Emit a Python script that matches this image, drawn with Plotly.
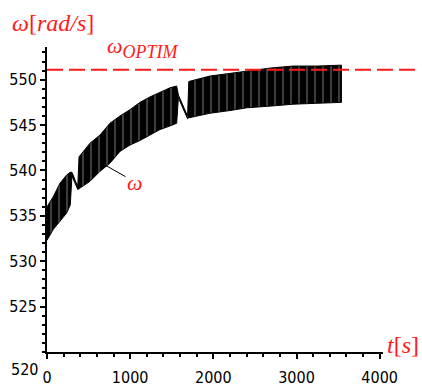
import plotly.graph_objects as go

# Rotor speed envelope: time [s], lower and upper bound of the oscillating omega [rad/s]
t_s = [0, 75, 156, 236, 280, 300, 370, 385, 517, 637, 757, 877, 998, 1118,
       1238, 1358, 1478, 1559, 1580, 1690, 1705, 1959, 2200, 2400, 2700,
       2960, 3250, 3540]
omega_low = [532.3, 533.5, 534.4, 535.3, 536.2, 539.4, 537.9, 538.0, 538.8,
             539.9, 540.8, 542.1, 542.8, 543.3, 543.9, 544.5, 544.9, 545.2,
             548.0, 545.7, 545.8, 546.3, 546.6, 546.9, 547.1, 547.3, 547.4,
             547.5]
omega_high = [536.0, 537.1, 538.6, 539.5, 539.8, 539.8, 538.2, 541.5, 543.0,
              543.9, 545.2, 546.0, 546.7, 547.5, 548.1, 548.6, 549.1, 549.3,
              548.3, 546.0, 549.8, 550.4, 550.7, 551.0, 551.3, 551.5, 551.5,
              551.6]

omega_optim = 551.1

x_ticks = [0, 1000, 2000, 3000, 4000]
y_ticks = [525, 530, 535, 540, 545, 550]

RED = "#ff1a1a"
SERIF = "Liberation Serif, Times New Roman, serif"
TICKFONT = dict(family="Liberation Sans Narrow, DejaVu Sans Condensed, sans-serif",
                size=16, color="black")

fig = go.Figure()

# oscillating speed drawn as the band between its envelopes,
# hatched with thin light strokes like the individual swings
fig.add_trace(go.Scatter(
    x=t_s + t_s[::-1],
    y=omega_high + omega_low[::-1],
    fill="toself",
    fillcolor="black",
    fillpattern=dict(shape="|", bgcolor="black", fgcolor="white",
                     size=8, solidity=0.12),
    line=dict(color="black", width=1),
    mode="lines",
    hoverinfo="skip",
    showlegend=False,
))

# optimal speed reference
fig.add_shape(type="line", xref="paper", yref="y",
              x0=0.0, x1=1.095, y0=omega_optim, y1=omega_optim,
              line=dict(color=RED, width=2, dash="16px,6px"))

fig.update_xaxes(
    range=[0, 4040], tickvals=x_ticks, ticks="outside", ticklen=5,
    tickwidth=1.5, tickcolor="black", showline=True, linewidth=2,
    linecolor="black", showgrid=False, zeroline=False, tickfont=TICKFONT,
    ticklabelstandoff=5, automargin=False,
    minor=dict(dtick=200, ticks="outside", ticklen=3, tickwidth=1.5,
               tickcolor="black", showgrid=False),
)
fig.update_yaxes(
    range=[520, 553.6], tickvals=y_ticks, ticks="outside", ticklen=5,
    tickwidth=1.5, tickcolor="black", showline=True, linewidth=2,
    linecolor="black", showgrid=False, zeroline=False, tickfont=TICKFONT,
    automargin=False,
    minor=dict(dtick=1, ticks="outside", ticklen=3, tickwidth=1.5,
               tickcolor="black", showgrid=False),
)

annotations = [
    # bottom y label sits below the origin
    dict(x=0, y=-0.059, xref="paper", yref="paper", text="520",
         showarrow=False, xanchor="right", yanchor="middle", xshift=-7,
         font=TICKFONT),
    dict(x=0.018, y=1.079, xref="paper", yref="paper",
         text="<i>ω</i>[<i>rad/s</i>]", showarrow=False,
         xanchor="center", yanchor="middle",
         font=dict(family=SERIF, size=24, color=RED)),
    dict(x=0.172, y=1.0, xref="paper", yref="paper",
         text="<i>ω</i><sub><span style='font-size:18px'><i>OPTIM</i></span></sub>",
         showarrow=False, xanchor="left", yanchor="middle",
         font=dict(family=SERIF, size=22, color=RED)),
    dict(x=1.06, y=0.023, xref="paper", yref="paper",
         text="<i>t</i>[<i>s</i>]", showarrow=False,
         xanchor="center", yanchor="middle",
         font=dict(family=SERIF, size=24, color=RED)),
    dict(x=697, y=540.6, xref="x", yref="y", text="<i>ω</i>",
         showarrow=True, arrowhead=0, arrowwidth=1, arrowcolor="black",
         ax=30, ay=17, font=dict(family=SERIF, size=22, color=RED)),
]

fig.update_layout(
    width=422, height=387,
    margin=dict(l=47, r=39, t=47, b=35, autoexpand=False),
    paper_bgcolor="white", plot_bgcolor="white",
    annotations=annotations,
    showlegend=False,
)

fig.write_html("out.html")
